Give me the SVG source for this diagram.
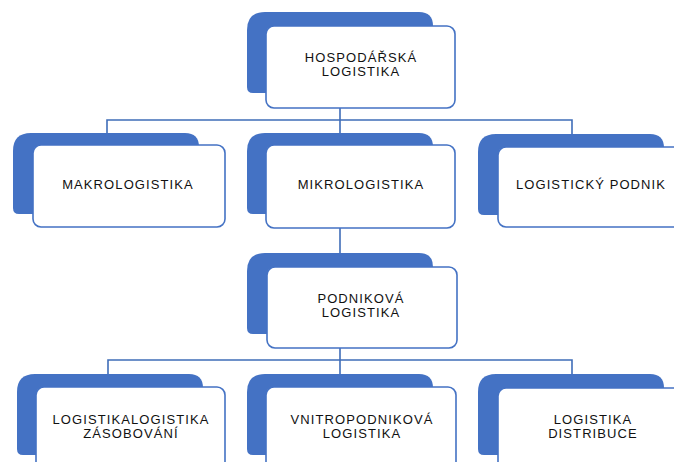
<svg xmlns="http://www.w3.org/2000/svg" width="674" height="462" viewBox="0 0 674 462">
<defs>
<style>
.bg{fill:#4472C4}
.card{fill:#fff;stroke:#4472C4;stroke-width:1.6}
.t{font-family:"Liberation Sans",Arial,sans-serif;font-size:13px;letter-spacing:1.1px;fill:#111;text-anchor:middle}
.c{fill:none;stroke:#3F6DB8;stroke-width:1.6}
</style>
<path id="tab" class="bg" d="M18,0 H172 Q186,0 186,14 V81 H6 Q0,81 0,75 V18 Q0,0 18,0 Z"/>
</defs>
<rect width="674" height="462" fill="#fff"/>
<g id="connectors">
<path class="c" d="M340,108 V120 M107,133 V120 H572 V134 M340,120 V133"/>
<path class="c" d="M340,228 V253"/>
<path class="c" d="M340,348 V360 M108,374 V360 H572 V374 M340,360 V374"/>
</g>
<g id="hospodarska">
<use href="#tab" x="247" y="12"/>
<rect class="card" x="266" y="26" width="189" height="82" rx="8"/>
<text class="t" x="361" y="62">HOSPODÁŘSKÁ</text>
<text class="t" x="361" y="76">LOGISTIKA</text>
</g>
<g id="makro">
<use href="#tab" x="13" y="133"/>
<rect class="card" x="33" y="145" width="192" height="82" rx="8"/>
<text class="t" x="128" y="189">MAKROLOGISTIKA</text>
</g>
<g id="mikro">
<use href="#tab" x="247" y="133"/>
<rect class="card" x="266" y="145" width="189" height="83" rx="8"/>
<text class="t" x="361" y="189">MIKROLOGISTIKA</text>
</g>
<g id="podnik">
<use href="#tab" x="478" y="134"/>
<rect class="card" x="498" y="147" width="190" height="80" rx="8"/>
<text class="t" x="591" y="189">LOGISTICKÝ PODNIK</text>
</g>
<g id="podnikova">
<use href="#tab" x="247" y="253"/>
<rect class="card" x="267" y="267" width="190" height="81" rx="8"/>
<text class="t" x="361" y="303">PODNIKOVÁ</text>
<text class="t" x="361" y="317">LOGISTIKA</text>
</g>
<g id="zasobovani">
<use href="#tab" x="17" y="374"/>
<rect class="card" x="36" y="387" width="189" height="100" rx="8"/>
<text class="t" x="131" y="424">LOGISTIKALOGISTIKA</text>
<text class="t" x="131" y="438">ZÁSOBOVÁNÍ</text>
</g>
<g id="vnitropodnikova">
<use href="#tab" x="247" y="374"/>
<rect class="card" x="266" y="387" width="190" height="100" rx="8"/>
<text class="t" x="362" y="424">VNITROPODNIKOVÁ</text>
<text class="t" x="362" y="438">LOGISTIKA</text>
</g>
<g id="distribuce">
<use href="#tab" x="478" y="374"/>
<rect class="card" x="498" y="388" width="190" height="100" rx="8"/>
<text class="t" x="593" y="424">LOGISTIKA</text>
<text class="t" x="593" y="438">DISTRIBUCE</text>
</g>
</svg>
